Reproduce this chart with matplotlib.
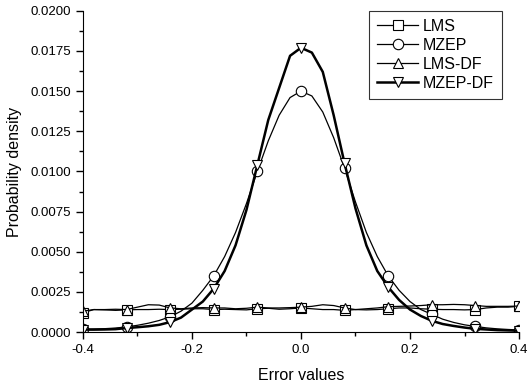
import numpy as np
import matplotlib
matplotlib.use("Agg")
import matplotlib.pyplot as plt
from matplotlib.ticker import MultipleLocator, FormatStrFormatter

plt.rcParams['font.family'] = ['Liberation Sans', 'DejaVu Sans']

err = [-0.40, -0.38, -0.36, -0.34, -0.32, -0.30, -0.28, -0.26, -0.24, -0.22,
       -0.20, -0.18, -0.16, -0.14, -0.12, -0.10, -0.08, -0.06, -0.04, -0.02,
       0.00, 0.02, 0.04, 0.06, 0.08, 0.10, 0.12, 0.14, 0.16, 0.18,
       0.20, 0.22, 0.24, 0.26, 0.28, 0.30, 0.32, 0.34, 0.36, 0.38, 0.40]

lms = [0.00120, 0.00140, 0.00138, 0.00135, 0.00138, 0.00140, 0.00140, 0.00142, 0.00140, 0.00142,
       0.00145, 0.00145, 0.00140, 0.00142, 0.00140, 0.00138, 0.00145, 0.00148, 0.00142, 0.00145,
       0.00150, 0.00145, 0.00140, 0.00140, 0.00135, 0.00140, 0.00138, 0.00140, 0.00145, 0.00150,
       0.00150, 0.00145, 0.00142, 0.00140, 0.00140, 0.00138, 0.00140, 0.00150, 0.00155, 0.00155, 0.00160]

mzep = [0.00018, 0.00019, 0.00021, 0.00025, 0.00032, 0.00042, 0.00055, 0.00072, 0.00095, 0.00130,
        0.00180, 0.00260, 0.00350, 0.00470, 0.00620, 0.00800, 0.01000, 0.01190, 0.01350, 0.01460,
        0.01500, 0.01470, 0.01370, 0.01210, 0.01020, 0.00810, 0.00620, 0.00470, 0.00350, 0.00260,
        0.00190, 0.00140, 0.00110, 0.00080, 0.00060, 0.00045, 0.00035, 0.00026, 0.00020, 0.00016, 0.00013]

lms_df = [0.00130, 0.00140, 0.00140, 0.00142, 0.00140, 0.00155, 0.00170, 0.00168, 0.00150, 0.00145,
          0.00150, 0.00152, 0.00150, 0.00150, 0.00145, 0.00148, 0.00155, 0.00150, 0.00150, 0.00152,
          0.00155, 0.00160, 0.00170, 0.00165, 0.00150, 0.00140, 0.00145, 0.00150, 0.00158, 0.00160,
          0.00162, 0.00165, 0.00170, 0.00170, 0.00172, 0.00170, 0.00165, 0.00160, 0.00160, 0.00160, 0.00162]

mzep_df = [0.00015, 0.00015, 0.00016, 0.00018, 0.00025, 0.00030, 0.00036, 0.00045, 0.00062, 0.00090,
           0.00140, 0.00190, 0.00270, 0.00380, 0.00540, 0.00760, 0.01040, 0.01320, 0.01520, 0.01720,
           0.01770, 0.01740, 0.01620, 0.01350, 0.01050, 0.00770, 0.00540, 0.00380, 0.00280, 0.00200,
           0.00140, 0.00100, 0.00070, 0.00050, 0.00038, 0.00028, 0.00020, 0.00016, 0.00012, 0.00010, 0.00008]

fig = plt.figure(figsize=(5.28, 3.87), dpi=100)
ax = fig.add_axes([0.157, 0.142, 0.826, 0.830])

mk = dict(markevery=4, markersize=7.5, markerfacecolor='white',
          markeredgecolor='black', markeredgewidth=0.8, color='black')
ax.plot(err, lms, marker='s', lw=0.9, label='LMS', **mk)
ax.plot(err, mzep, marker='o', lw=0.9, label='MZEP', **mk)
ax.plot(err, lms_df, marker='^', lw=0.9, label='LMS-DF', **mk)
ax.plot(err, mzep_df, marker='v', lw=1.8, label='MZEP-DF', **mk)

ax.set_xlim(-0.4, 0.4)
ax.set_ylim(0, 0.02)
ax.xaxis.set_major_locator(MultipleLocator(0.2))
ax.xaxis.set_minor_locator(MultipleLocator(0.1))
ax.yaxis.set_major_locator(MultipleLocator(0.0025))
ax.yaxis.set_minor_locator(MultipleLocator(0.00125))
ax.xaxis.set_major_formatter(FormatStrFormatter('%.1f'))
ax.yaxis.set_major_formatter(FormatStrFormatter('%.4f'))
ax.tick_params(which='both', direction='out', width=1, labelsize=9.5)
ax.tick_params(which='major', length=5)
ax.tick_params(which='minor', length=3)
ax.spines['top'].set_visible(False)
ax.spines['right'].set_visible(False)

ax.set_xlabel('Error values', fontsize=11.5, labelpad=9)
ax.set_ylabel('Probability density', fontsize=11.5, labelpad=6)

leg = ax.legend(loc='upper right', bbox_to_anchor=(0.951, 0.972),
                bbox_transform=fig.transFigure, fontsize=11.5, frameon=True,
                fancybox=False, edgecolor='black', handlelength=2.6,
                handletextpad=0.3, labelspacing=0.25, borderpad=0.5,
                borderaxespad=0)
leg.get_frame().set_linewidth(0.8)

fig.savefig('out.png', dpi=100)
